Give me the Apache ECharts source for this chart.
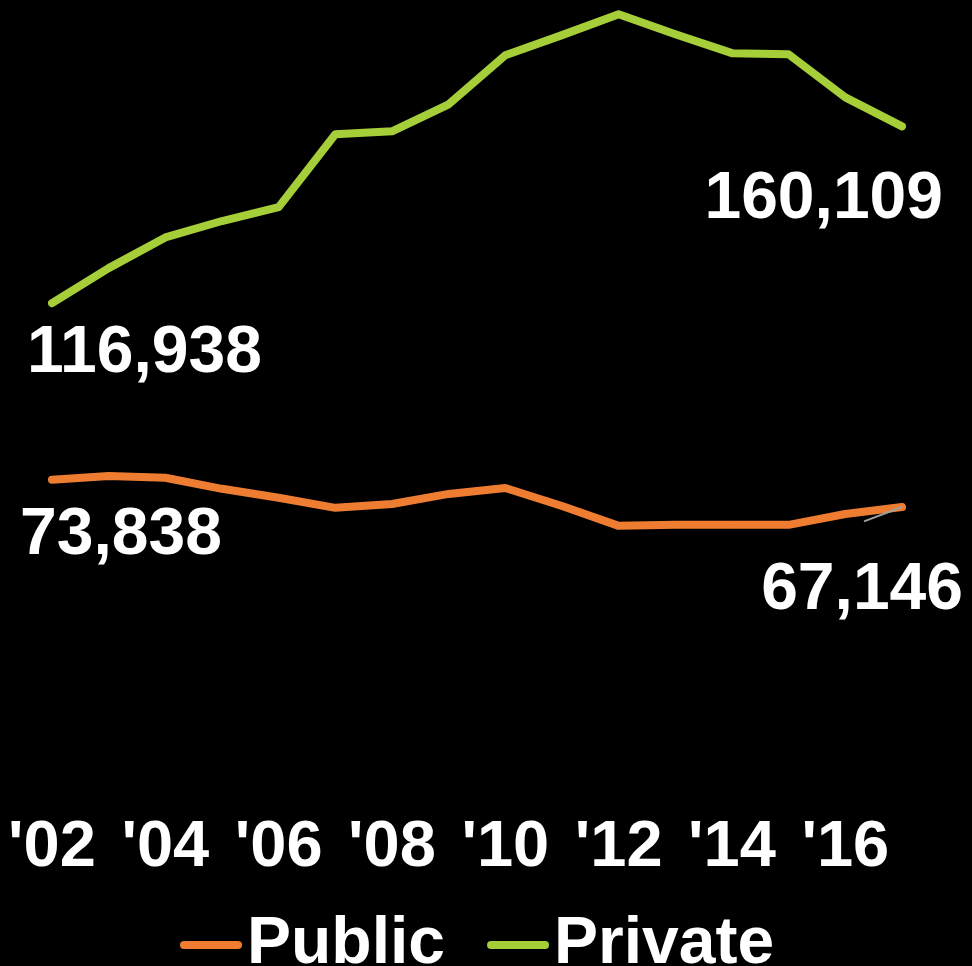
<!DOCTYPE html>
<html>
<head>
<meta charset="utf-8">
<title>Public vs Private</title>
<script src="https://cdn.jsdelivr.net/npm/echarts@6/dist/echarts.min.js"></script>
<style>
  html, body { margin: 0; padding: 0; background: #000; }
  #chart { width: 972px; height: 966px; }
</style>
</head>
<body>
<div id="chart"></div>
<script>
/* ---- data ---- */
const years = [2002, 2003, 2004, 2005, 2006, 2007, 2008, 2009, 2010, 2011, 2012, 2013, 2014, 2015, 2016, 2017];
const publicValues = [73838, 74750, 74300, 71600, 69400, 66950, 67900, 70350, 71800, 67400, 62550, 62800, 62800, 62800, 65450, 67146];
const privateValues = [116938, 125500, 133000, 137000, 140400, 158200, 158900, 165500, 177500, 182400, 187500, 182600, 178000, 177700, 167200, 160109];
const seriesNames = ['Public', 'Private'];
// small grey leader stroke next to the last Public point
const leaderLine = [[2017, 67146], [2016.33, 63650]];

const FONT = '"Liberation Sans", Arial, Helvetica, sans-serif';
const ORANGE = '#EE7D31';
const GREEN = '#A6CE39';

const fmt = v => v.toLocaleString('en-US');

// end labels: style only, values come from the arrays
function endLabel(align, offset) {
  return {
    show: true,
    position: 'inside',
    align: align,
    verticalAlign: 'middle',
    offset: offset,
    color: '#fff',
    fontFamily: FONT,
    fontWeight: 'bold',
    fontSize: 66,
    formatter: p => fmt(p.value[1])
  };
}

function buildData(values, firstLabel, lastLabel) {
  return values.map((v, i) => {
    const item = { value: [years[i], v] };
    if (i === 0) item.label = firstLabel;
    if (i === values.length - 1) item.label = lastLabel;
    return item;
  });
}

const chart = echarts.init(document.getElementById('chart'));

const option = {
  backgroundColor: '#000',
  animation: false,
  grid: { left: 52, right: 70, top: 4, bottom: 184 },
  xAxis: {
    type: 'value',
    min: 2002,
    max: 2017,
    interval: 2,
    axisLine: { show: false },
    axisTick: { show: false },
    splitLine: { show: false },
    axisLabel: {
      showMaxLabel: false,
      color: '#fff',
      fontFamily: FONT,
      fontWeight: 'bold',
      fontSize: 65,
      margin: 34,
      formatter: v => "'" + String(v).slice(2)
    }
  },
  yAxis: {
    type: 'value',
    min: 0,
    max: 190000,
    show: false,
    splitLine: { show: false }
  },
  legend: {
    top: 912,
    left: 180,
    padding: 0,
    itemWidth: 62,
    itemHeight: 8,
    itemGap: 42,
    icon: 'path://M4,0 L58,0 A4,4 0 0 1 58,8 L4,8 A4,4 0 0 1 4,0 Z',
    selectedMode: false,
    textStyle: { color: '#fff', fontFamily: FONT, fontWeight: 'bold', fontSize: 66 },
    data: [
      { name: seriesNames[0], itemStyle: { color: ORANGE } },
      { name: seriesNames[1], itemStyle: { color: GREEN } }
    ]
  },
  series: [
    {
      name: seriesNames[0],
      type: 'line',
      color: ORANGE,
      symbol: 'circle',
      symbolSize: 2,
      silent: true,
      emphasis: { disabled: true },
      lineStyle: { color: ORANGE, width: 8, cap: 'round', join: 'round' },
      data: buildData(publicValues, endLabel('left', [-32, 56]), endLabel('right', [61, 84])),
      markLine: {
        silent: true,
        symbol: ['none', 'none'],
        label: { show: false },
        lineStyle: { color: '#a0a0a0', width: 2, type: 'solid' },
        data: [[{ coord: leaderLine[0] }, { coord: leaderLine[1] }]]
      }
    },
    {
      name: seriesNames[1],
      type: 'line',
      color: GREEN,
      symbol: 'circle',
      symbolSize: 2,
      silent: true,
      emphasis: { disabled: true },
      lineStyle: { color: GREEN, width: 8, cap: 'round', join: 'round' },
      data: buildData(privateValues, endLabel('left', [-25, 51]), endLabel('right', [41, 73]))
    }
  ]
};

chart.setOption(option);
</script>
</body>
</html>
